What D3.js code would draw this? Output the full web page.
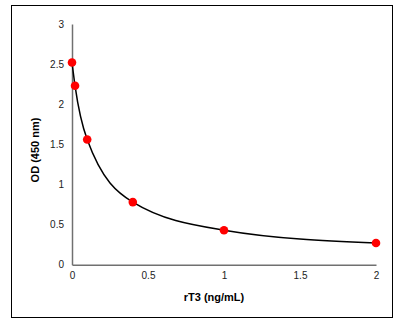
<!DOCTYPE html>
<html><head><meta charset="utf-8">
<script src="https://cdn.jsdelivr.net/npm/d3@7"></script>
<style>body{margin:0;background:#fff}svg{display:block}</style>
</head><body>
<script>
const concentrations = [0, 0.02, 0.1, 0.4, 1, 2];
const odValues = [2.52, 2.23, 1.56, 0.78, 0.43, 0.27];
const xTicks = [0, 0.5, 1, 1.5, 2];
const yTicks = [0, 0.5, 1, 1.5, 2, 2.5, 3];

const W = 416, H = 326;
const svg = d3.select("body").append("svg").attr("width", W).attr("height", H);
svg.append("rect").attr("x", 11.5).attr("y", 5.5).attr("width", 381).attr("height", 312)
  .attr("fill", "#fff").attr("stroke", "#000").attr("stroke-width", 1);

const x = d3.scaleLinear().domain([0, 2]).range([72, 376]);
const y = d3.scaleLinear().domain([0, 3]).range([264.7, 24]);
const font = "'Liberation Sans', Arial, sans-serif";

// axes
const xAxis = svg.append("g").attr("transform", `translate(0,${y(0)})`)
  .call(d3.axisBottom(x).tickValues(xTicks).tickSize(0).tickPadding(7).tickFormat(d3.format("")));
const yAxis = svg.append("g").attr("transform", `translate(${x(0)},0)`)
  .call(d3.axisLeft(y).tickValues(yTicks).tickSize(0).tickPadding(8).tickFormat(d3.format("")));
[xAxis, yAxis].forEach(g => {
  g.select(".domain").attr("stroke", "#707070").attr("stroke-width", 1.5);
  g.selectAll("text").attr("font-family", font).attr("font-size", 10).attr("fill", "#222");
});

// curve
const pts = concentrations.map((c, i) => [c, odValues[i]]);
svg.append("path").datum(pts)
  .attr("d", d3.line().x(d => x(d[0])).y(d => y(d[1])).curve(d3.curveMonotoneX))
  .attr("fill", "none").attr("stroke", "#000").attr("stroke-width", 1.5);

svg.append("g").selectAll("circle").data(pts).join("circle")
  .attr("cx", d => x(d[0])).attr("cy", d => y(d[1])).attr("r", 4.3)
  .attr("fill", "#ff0000");

svg.append("text").attr("x", 214).attr("y", 301).attr("text-anchor", "middle")
  .attr("font-family", font).attr("font-size", 11).attr("font-weight", "bold").text("rT3 (ng/mL)");
svg.append("text").attr("transform", "translate(39,150) rotate(-90)").attr("text-anchor", "middle")
  .attr("font-family", font).attr("font-size", 11).attr("font-weight", "bold").text("OD (450 nm)");
</script>
</body></html>
